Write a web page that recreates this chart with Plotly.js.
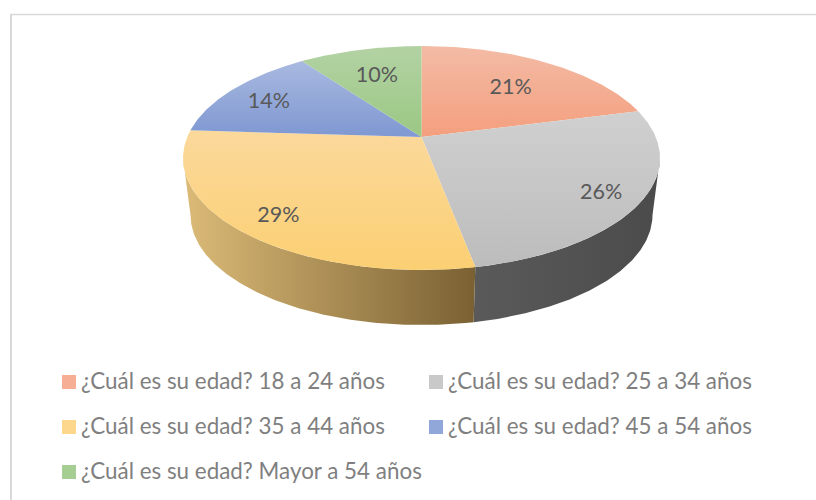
<!DOCTYPE html>
<html>
<head>
<meta charset="utf-8">
<script src="https://cdn.plot.ly/plotly-3.0.1.min.js"></script>
<style>html,body{margin:0;padding:0;background:#fff}#c{width:816px;height:500px}</style>
</head>
<body>
<div id="c"></div>
<script>
// Data
const categories = ['¿Cuál es su edad? 18 a 24 años','¿Cuál es su edad? 25 a 34 años','¿Cuál es su edad? 35 a 44 años','¿Cuál es su edad? 45 a 54 años','¿Cuál es su edad? Mayor a 54 años'];
const values = [21,26,29,14,10];
const topLight = ['#f3bba5','#d0d0d0','#fbd99c','#a9b9e0','#b3d2a4'];
const topDark  = ['#f49f7e','#bcbcbc','#fbcf72','#7f98d2','#9ac883'];
const swatch   = ['#f6ae94','#c9c9c9','#fdd78c','#92a7d9','#a6cd92'];
const labelRadius = [0.68,0.83,0.82,0.80,0.70];

// Projection parameters of the tilted disc
const CX=421.5, CY=158, RX=238.5, RY=112, TILT=0.1875;
const BCX=421.5, BCY=215, BRX=231, BRY=110;

function project(theta,r){
  const u=r*Math.sin(theta), v=r*Math.cos(theta), d=1+TILT*v;
  return {nx:u*Math.sqrt(1-TILT*TILT)/d, ny:(v+TILT)/d};
}
const topPt=p=>[CX+RX*p.nx, CY-RY*p.ny];
const botPt=p=>[BCX+BRX*p.nx, BCY-BRY*p.ny];
const total=values.reduce((a,b)=>a+b,0);
const edges=[0]; values.forEach(v=>edges.push(edges[edges.length-1]+v/total*2*Math.PI));

function arc(a,b,f){
  const n=Math.max(2,Math.ceil(Math.abs(b-a)/0.01)), out=[];
  for(let i=0;i<=n;i++) out.push(f(project(a+(b-a)*i/n,1)));
  return out;
}
const traces=[];
function poly(pts,c0,c1,type){
  traces.push({type:'scatter',mode:'lines',x:pts.map(p=>p[0]),y:pts.map(p=>p[1]),
    fill:'toself',line:{width:0},hoverinfo:'skip',showlegend:false,fillcolor:c1,
    fillgradient:{type:type,colorscale:[[0,c0],[1,c1]]}});
}
// Side walls: from the silhouette points of the disc round the front
const silhouette=Math.acos(-TILT);
const wallAngle=silhouette, wallEnd=2*Math.PI-silhouette;
const grayWallA=arc(wallAngle,edges[2],topPt), grayWallB=arc(edges[2],wallAngle,botPt);
poly(grayWallA.concat(grayWallB),'#5a5a5a','#4b4b4b','horizontal');
const yelA=arc(edges[2],wallEnd,topPt), yelB=arc(wallEnd,edges[2],botPt);
poly(yelA.concat(yelB),'#dcbb78','#7a6133','horizontal');
// Top faces (light at top of the picture, dark at the bottom)
values.forEach((v,i)=>{
  const pts=[topPt(project(0,0))].concat(arc(edges[i],edges[i+1],topPt));
  poly(pts,topDark[i],topLight[i],'vertical');
});
// Data labels
const mids=values.map((v,i)=>(edges[i]+edges[i+1])/2);
const lab=mids.map((m,i)=>topPt(project(m,labelRadius[i])));
traces.push({type:'scatter',mode:'text',x:lab.map(p=>p[0]+0.5),y:lab.map(p=>p[1]+4),
  text:values.map(v=>v+'%'),textposition:'middle center',hoverinfo:'skip',showlegend:false,
  textfont:{family:'Lato',size:21.5,color:'#595959'}});
// Legend
const lx=categories.map((c,i)=>i%2?436:69), ly=categories.map((c,i)=>382+45*Math.floor(i/2));
traces.push({type:'scatter',mode:'markers',x:lx,y:ly,hoverinfo:'skip',showlegend:false,
  marker:{symbol:'square',size:14,color:swatch,line:{width:0}}});
traces.push({type:'scatter',mode:'text',x:lx.map(x=>x+12),y:ly.map(y=>y+1),text:categories,textposition:'middle right',
  hoverinfo:'skip',showlegend:false,textfont:{family:'Lato',size:22.4,color:'#7f7f7f'}});

const axis={visible:false,fixedrange:true};
Plotly.newPlot('c',traces,{
  width:816,height:500,margin:{l:0,r:0,t:0,b:0},paper_bgcolor:'#fff',plot_bgcolor:'#fff',
  xaxis:Object.assign({range:[0,816]},axis),yaxis:Object.assign({range:[500,0]},axis),
  showlegend:false,
  shapes:[
    {type:'line',xref:'x',yref:'y',x0:11,x1:11,y0:14,y1:500,line:{color:'#d9d9d9',width:2}},
    {type:'line',xref:'x',yref:'y',x0:10,x1:816,y0:14.5,y1:14.5,line:{color:'#d9d9d9',width:1.5}}
  ]
},{displayModeBar:false,staticPlot:true});
</script>
</body>
</html>
